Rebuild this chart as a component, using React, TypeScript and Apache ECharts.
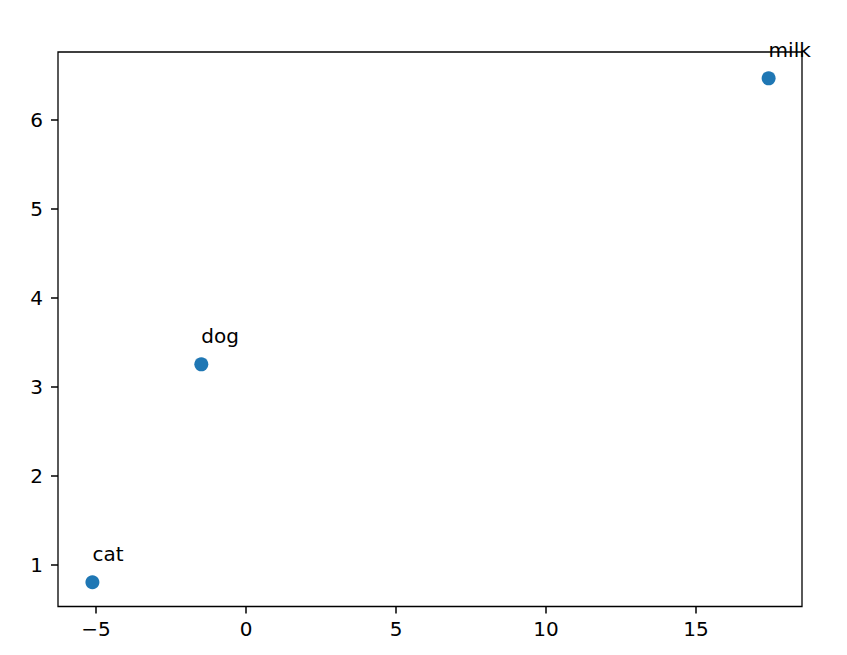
import React, { useEffect, useRef } from "react";
import * as echarts from "echarts";

const names = ["cat", "dog", "milk"];
const xValues = [-5.12, -1.49, 17.42];
const yValues = [0.8, 3.25, 6.465];
const xTicks = [-5, 0, 5, 10, 15];
const yTicks = [1, 2, 3, 4, 5, 6];
const xLimits = [-6.267, 18.533];
const yLimits = [0.528, 6.761];

const fmt = (v: number) => String(v).replace("-", "\u2212");

export default function App() {
  const ref = useRef<HTMLDivElement>(null);
  useEffect(() => {
    if (!ref.current) return;
    const chart = echarts.init(ref.current, undefined, { renderer: "svg" });
    const font = "DejaVu Sans";
    chart.setOption({
      animation: false,
      backgroundColor: "#ffffff",
      textStyle: { fontFamily: font },
      grid: {
        show: true,
        left: 58,
        top: 52,
        width: 744,
        height: 554.5,
        borderColor: "#000",
        borderWidth: 1.3,
        backgroundColor: "transparent",
      },
      xAxis: {
        type: "value",
        position: "bottom",
        min: xLimits[0],
        max: xLimits[1],
        axisLine: { show: false, onZero: false },
        splitLine: { show: false },
        axisTick: {
          show: true,
          inside: false,
          customValues: xTicks,
          length: 7,
          lineStyle: { color: "#000", width: 1.5 },
        },
        axisLabel: {
          customValues: xTicks,
          formatter: fmt,
          color: "#000",
          fontSize: 20,
          fontFamily: font,
          margin: 12,
        },
      },
      yAxis: {
        type: "value",
        position: "left",
        min: yLimits[0],
        max: yLimits[1],
        axisLine: { show: false, onZero: false },
        splitLine: { show: false },
        axisTick: {
          show: true,
          inside: false,
          customValues: yTicks,
          length: 7,
          lineStyle: { color: "#000", width: 1.5 },
        },
        axisLabel: {
          customValues: yTicks,
          formatter: fmt,
          color: "#000",
          fontSize: 20,
          fontFamily: font,
          margin: 15,
        },
      },
      series: [
        {
          type: "scatter",
          symbolSize: 14,
          itemStyle: { color: "#1f77b4", opacity: 1 },
          data: xValues.map((x, i) => ({ value: [x, yValues[i]], name: names[i] })),
          label: {
            show: true,
            formatter: (p: any) => p.name,
            position: [7, -21],
            align: "left",
            verticalAlign: "middle",
            color: "#000",
            fontSize: 20,
            fontFamily: font,
          },
          emphasis: { disabled: true },
        },
      ],
    });
    return () => chart.dispose();
  }, []);
  return (
    <div
      ref={ref}
      style={{ position: "absolute", left: 0, top: 0, width: 847, height: 655 }}
    />
  );
}
